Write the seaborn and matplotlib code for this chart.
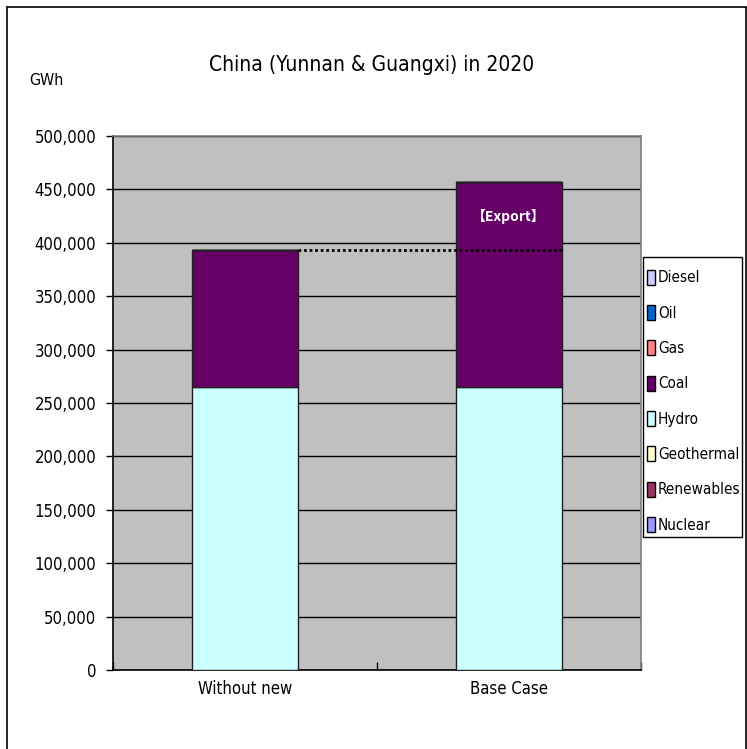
import matplotlib
matplotlib.use("Agg")
import matplotlib.pyplot as plt
from matplotlib.patches import Patch, Rectangle
from matplotlib.ticker import FuncFormatter, MultipleLocator
import seaborn as sns
import pandas as pd
import numpy as np

# Generation mix by scenario (GWh)
cases = ["Without new", "Base Case"]
sources = ["Nuclear", "Renewables", "Geothermal", "Hydro", "Coal", "Gas", "Oil", "Diesel"]
nuclear = [0, 0]
renewables = [0, 0]
geothermal = [0, 0]
hydro = [265000, 265000]
coal = [128000, 192000]
gas = [0, 0]
oil = [0, 0]
diesel = [0, 0]
colors = ["#9999FF", "#993366", "#FFFFCC", "#CCFFFF", "#660066", "#FF8080", "#0066CC", "#CCCCFF"]

values = dict(zip(sources, [nuclear, renewables, geothermal, hydro, coal, gas, oil, diesel]))

sns.set_style("white")
plt.rcParams["font.family"] = ["DejaVu Sans"]
plt.rcParams["font.stretch"] = "condensed"
plt.rcParams["text.color"] = "black"
plt.rcParams["xtick.color"] = "black"
plt.rcParams["ytick.color"] = "black"

fig = plt.figure(figsize=(7.47, 7.49), dpi=100)
ax = fig.add_axes([0.1513, 0.1055, 0.7068, 0.7130])
ax.set_facecolor("#C0C0C0")

bottom = np.zeros(len(cases))
for src, col in zip(sources, colors):
    df = pd.DataFrame({"case": cases, "value": values[src]})
    sns.barplot(data=df, x="case", y="value", color=col, width=0.4,
                bottom=bottom, edgecolor="#202020", linewidth=1.0,
                saturation=1, ax=ax, zorder=3, errorbar=None)
    bottom = bottom + np.array(values[src])

ax.set_xlim(-0.5, 1.5)
ax.set_ylim(0, 500000)
ax.yaxis.set_major_locator(MultipleLocator(50000))
ax.yaxis.set_major_formatter(FuncFormatter(lambda v, p: f"{int(v):,}"))
ax.grid(axis="y", color="black", linewidth=1.0, zorder=0)
ax.set_axisbelow(True)

# Dotted reference at the "Without new" total, carried across to the Base Case bar
ref = bottom[0]
ax.plot([0.2, 1.2], [ref, ref], color="black", linestyle=(0, (1, 1)),
        linewidth=2.0, zorder=4)
ax.text(1, 425000, "【Export】", color="white", ha="center", va="center",
        fontsize=10, fontweight="bold", zorder=5,
        family=["Noto Sans CJK JP", "DejaVu Sans"])

ax.set_xlabel("")
ax.set_ylabel("")
ax.tick_params(axis="y", direction="out", length=5, width=1, color="black",
               labelsize=12, pad=7, left=True)
ax.tick_params(axis="x", length=0, labelsize=12, pad=7)
ax.set_xticks([-0.5, 0.5, 1.5], minor=True)
ax.tick_params(axis="x", which="minor", direction="in", length=6, width=1,
               color="black", bottom=True)

for s in ["left", "bottom"]:
    ax.spines[s].set_color("black")
    ax.spines[s].set_linewidth(1.2)
for s in ["top", "right"]:
    ax.spines[s].set_color("#808080")
    ax.spines[s].set_linewidth(1.2)

fig.text(0.497, 0.913, "China (Yunnan & Guangxi) in 2020", ha="center",
         va="center", fontsize=15)
fig.text(0.062, 0.893, "GWh", ha="center", va="center", fontsize=11.5)

# Legend box and entries
fig.add_artist(Rectangle((0.8608, 0.283), 0.1325, 0.3738, transform=fig.transFigure,
                         facecolor="white", edgecolor="black", linewidth=1.0,
                         zorder=1))
handles = [Patch(facecolor=c, edgecolor="black", linewidth=1.0, label=s)
           for s, c in zip(sources, colors)][::-1]
leg = fig.legend(handles=handles, loc="upper left",
                 bbox_to_anchor=(0.8655, 0.640), frameon=False, fontsize=11,
                 handlelength=0.55, handleheight=1.15, handletextpad=0.2,
                 labelspacing=1.28, borderpad=0, borderaxespad=0)
leg.set_zorder(2)

# Outer chart border
for xs, ys in [([0.010, 0.010], [0.0, 0.991]), ([0.010, 0.998], [0.991, 0.991]),
               ([0.998, 0.998], [0.0, 0.991])]:
    fig.add_artist(plt.Line2D(xs, ys, color="black", linewidth=1.2,
                              transform=fig.transFigure))

fig.savefig("out.png", dpi=100)
